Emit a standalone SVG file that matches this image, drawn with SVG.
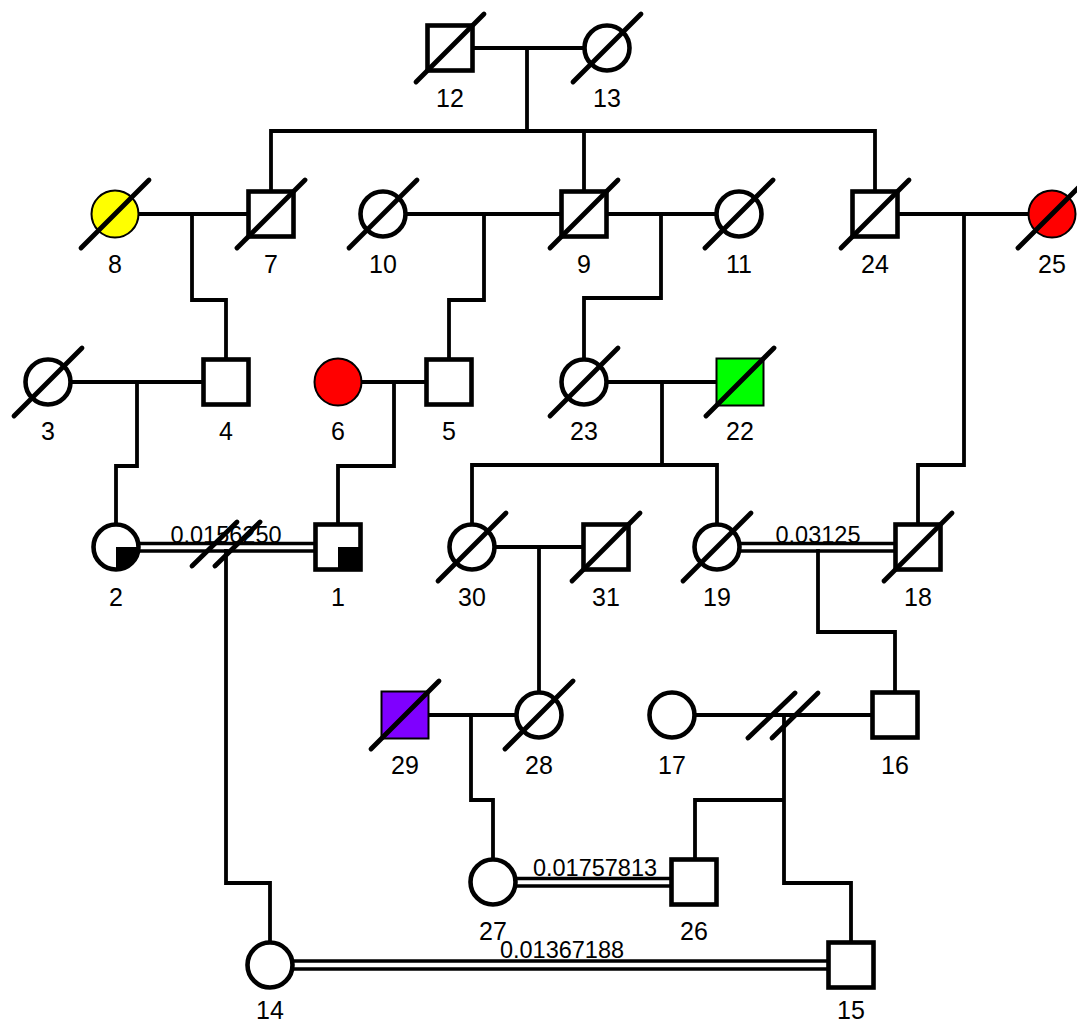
<svg xmlns="http://www.w3.org/2000/svg" width="1077" height="1024" viewBox="0 0 1077 1024">
<style>
.bg{fill:#fff}
.ln{fill:none;stroke:#000;stroke-width:3.8;stroke-linecap:square}
.dbl{fill:none;stroke:#000;stroke-width:3.6}
.sh{fill:#fff;stroke:#000;stroke-width:4.6}
.shc{stroke:#000;stroke-width:2}
.dec{stroke:#000;stroke-width:4.8;stroke-linecap:round}
.lbl{font-family:"Liberation Sans",Arial,sans-serif;font-size:25px;text-anchor:middle;fill:#000}
.cl{font-family:"Liberation Sans",Arial,sans-serif;font-size:23.5px;text-anchor:middle;fill:#000}
</style>
<rect class="bg" x="0" y="0" width="1077" height="1024"/>
<g id="connectors">
<path class="ln" d="M473,48 H585 M527,48 V131 M271,131 H875 M271,131 V191 M584,131 V191 M875,131 V191"/>
<path class="ln" d="M138,214 H248 M192,214 V300 H226 V359"/>
<path class="ln" d="M406,214 H561 M484,214 V300 H449 V359"/>
<path class="ln" d="M607,214 H716 M661,214 V298 H584 V360"/>
<path class="ln" d="M898,214 H1029 M964,214 V465 H918 V524"/>
<path class="ln" d="M71,382 H203 M137,382 V466 H116 V525"/>
<path class="ln" d="M361,382 H426 M394,382 V466 H338 V524"/>
<path class="ln" d="M607,382 H717 M662,382 V465 M472,465 H717 M472,465 V525 M717,465 V525"/>
<path class="dbl" d="M139,543.5 H315 M139,551 H315"/>
<path class="ln" d="M226,551 V883 H270 V942"/>
<path class="ln" d="M495,547 H583 M539,547 V692"/>
<path class="dbl" d="M740,543.5 H895 M740,551 H895"/>
<path class="ln" d="M818,551 V632 H895 V692"/>
<path class="ln" d="M428,715 H517 M471,715 V800 H493 V860"/>
<path class="ln" d="M695,715 H872 M784,715 V883 H851 V942 M784,800 H695 V859"/>
<path class="dbl" d="M516,878.5 H671 M516,886 H671"/>
<path class="dbl" d="M293,961 H828 M293,969 H828"/>
<line class="dec" x1="192" y1="566" x2="237" y2="522"/>
<line class="dec" x1="215" y1="566" x2="260" y2="522"/>
<line class="dec" x1="748" y1="738" x2="795" y2="693"/>
<line class="dec" x1="772" y1="738" x2="818" y2="693"/>
<text class="cl" x="226" y="543">0.0156250</text>
<text class="cl" x="818" y="543">0.03125</text>
<text class="cl" x="595" y="876">0.01757813</text>
<text class="cl" x="562" y="958">0.01367188</text>
</g>
<g id="n12"><rect class="sh" x="427.5" y="25.5" width="45" height="45"/><line class="dec" x1="416" y1="82" x2="484" y2="14"/><text class="lbl" x="450" y="107">12</text></g>
<g id="n13"><circle class="sh" cx="607" cy="48" r="22.5"/><line class="dec" x1="573" y1="82" x2="641" y2="14"/><text class="lbl" x="607" y="107">13</text></g>
<g id="n8"><circle class="shc" fill="#ffff00" cx="115" cy="214" r="23.5"/><line class="dec" x1="81" y1="248" x2="149" y2="180"/><text class="lbl" x="115" y="273">8</text></g>
<g id="n7"><rect class="sh" x="248.5" y="191.5" width="45" height="45"/><line class="dec" x1="237" y1="248" x2="305" y2="180"/><text class="lbl" x="271" y="273">7</text></g>
<g id="n10"><circle class="sh" cx="383" cy="214" r="22.5"/><line class="dec" x1="349" y1="248" x2="417" y2="180"/><text class="lbl" x="383" y="273">10</text></g>
<g id="n9"><rect class="sh" x="561.5" y="191.5" width="45" height="45"/><line class="dec" x1="550" y1="248" x2="618" y2="180"/><text class="lbl" x="584" y="273">9</text></g>
<g id="n11"><circle class="sh" cx="739" cy="214" r="22.5"/><line class="dec" x1="705" y1="248" x2="773" y2="180"/><text class="lbl" x="739" y="273">11</text></g>
<g id="n24"><rect class="sh" x="852.5" y="191.5" width="45" height="45"/><line class="dec" x1="841" y1="248" x2="909" y2="180"/><text class="lbl" x="875" y="273">24</text></g>
<g id="n25"><circle class="shc" fill="#ff0000" cx="1052" cy="214" r="23.5"/><line class="dec" x1="1018" y1="248" x2="1086" y2="180"/><text class="lbl" x="1052" y="273">25</text></g>
<g id="n3"><circle class="sh" cx="48" cy="382" r="22.5"/><line class="dec" x1="14" y1="416" x2="82" y2="348"/><text class="lbl" x="48" y="440">3</text></g>
<g id="n4"><rect class="sh" x="203.5" y="359.5" width="45" height="45"/><text class="lbl" x="226" y="440">4</text></g>
<g id="n6"><circle class="shc" fill="#ff0000" cx="338" cy="382" r="23.5"/><text class="lbl" x="338" y="440">6</text></g>
<g id="n5"><rect class="sh" x="426.5" y="359.5" width="45" height="45"/><text class="lbl" x="449" y="440">5</text></g>
<g id="n23"><circle class="sh" cx="584" cy="382" r="22.5"/><line class="dec" x1="550" y1="416" x2="618" y2="348"/><text class="lbl" x="584" y="440">23</text></g>
<g id="n22"><rect class="shc" fill="#00ff00" x="716.5" y="358.5" width="47" height="47"/><line class="dec" x1="706" y1="416" x2="774" y2="348"/><text class="lbl" x="740" y="440">22</text></g>
<g id="n2"><circle class="sh" cx="116" cy="547" r="22.5"/><path d="M116,547 H138.5 A22.5,22.5 0 0 1 116,569.5 Z" fill="#000"/><text class="lbl" x="116" y="606">2</text></g>
<g id="n1"><rect class="sh" x="315.5" y="524.5" width="45" height="45"/><rect x="338" y="547" width="22.5" height="22.5" fill="#000"/><text class="lbl" x="338" y="606">1</text></g>
<g id="n30"><circle class="sh" cx="472" cy="547" r="22.5"/><line class="dec" x1="438" y1="581" x2="506" y2="513"/><text class="lbl" x="472" y="606">30</text></g>
<g id="n31"><rect class="sh" x="583.5" y="524.5" width="45" height="45"/><line class="dec" x1="572" y1="581" x2="640" y2="513"/><text class="lbl" x="606" y="606">31</text></g>
<g id="n19"><circle class="sh" cx="717" cy="547" r="22.5"/><line class="dec" x1="683" y1="581" x2="751" y2="513"/><text class="lbl" x="717" y="606">19</text></g>
<g id="n18"><rect class="sh" x="895.5" y="524.5" width="45" height="45"/><line class="dec" x1="884" y1="581" x2="952" y2="513"/><text class="lbl" x="918" y="606">18</text></g>
<g id="n29"><rect class="shc" fill="#7f00ff" x="381.5" y="691.5" width="47" height="47"/><line class="dec" x1="371" y1="749" x2="439" y2="681"/><text class="lbl" x="405" y="774">29</text></g>
<g id="n28"><circle class="sh" cx="539" cy="715" r="22.5"/><line class="dec" x1="505" y1="749" x2="573" y2="681"/><text class="lbl" x="539" y="774">28</text></g>
<g id="n17"><circle class="sh" cx="672" cy="715" r="22.5"/><text class="lbl" x="672" y="774">17</text></g>
<g id="n16"><rect class="sh" x="872.5" y="692.5" width="45" height="45"/><text class="lbl" x="895" y="774">16</text></g>
<g id="n27"><circle class="sh" cx="493" cy="882" r="22.5"/><text class="lbl" x="493" y="940">27</text></g>
<g id="n26"><rect class="sh" x="671.5" y="859.5" width="45" height="45"/><text class="lbl" x="694" y="940">26</text></g>
<g id="n14"><circle class="sh" cx="270" cy="965" r="22.5"/><text class="lbl" x="270" y="1019">14</text></g>
<g id="n15"><rect class="sh" x="828.5" y="942.5" width="45" height="45"/><text class="lbl" x="851" y="1019">15</text></g>
</svg>
